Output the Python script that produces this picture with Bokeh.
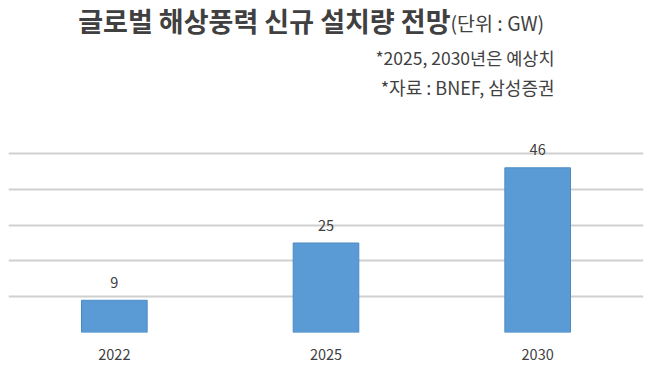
from bokeh.plotting import figure
from bokeh.models import Range1d, FixedTicker, ColumnDataSource, Label
from bokeh.core.properties import value
from bokeh.embed import file_html
from bokeh.resources import INLINE

years = ["2022", "2025", "2030"]
installs = [9, 25, 46]
grid_ticks = [0, 10, 20, 30, 40, 50]
title_main = "글로벌 해상풍력 신규 설치량 전망"
title_unit = "(단위 : GW)"
note1 = "*2025, 2030년은 예상치"
note2 = "*자료 : BNEF, 삼성증권"

W, H = 658, 367
LEFT, RIGHT, TOP, BOTTOM = 8, 15, 0, 35
FONT = "Noto Sans CJK KR"

xs = list(range(len(years)))
x0, x1 = -0.5, len(years) - 0.5
y0, y1 = 0, 92.74

p = figure(width=W, height=H, output_backend="svg", toolbar_location=None,
           x_range=Range1d(x0, x1), y_range=Range1d(y0, y1),
           y_axis_location=None, min_border_left=LEFT, min_border_right=RIGHT,
           min_border_top=TOP, min_border_bottom=BOTTOM)
p.outline_line_color = None
p.background_fill_color = "white"
p.border_fill_color = "white"

fw = W - LEFT - RIGHT
fh = H - TOP - BOTTOM
def px2x(px):
    return x0 + (px - LEFT) / fw * (x1 - x0)
def py2y(py):
    return y0 + (TOP + fh - py) / fh * (y1 - y0)

p.xgrid.visible = False
p.ygrid.ticker = FixedTicker(ticks=grid_ticks)
p.ygrid.grid_line_color = "#d0d0d0"
p.ygrid.grid_line_width = 1.8

src = ColumnDataSource(dict(x=xs, top=installs, lab=[str(v) for v in installs]))
p.vbar(x="x", top="top", width=0.31, bottom=0, source=src,
       fill_color="#5b9bd5", line_color="#4a8ac4", line_width=1)
p.text(x="x", y="top", text="lab", source=src, text_align="center",
       text_baseline="middle", y_offset=-18, text_font=value(FONT),
       text_font_size="14.5px", text_color="#404040")

ax = p.xaxis[0]
ax.ticker = FixedTicker(ticks=xs)
ax.major_label_overrides = {i: y for i, y in enumerate(years)}
ax.axis_line_color = None
ax.major_tick_line_color = None
ax.minor_tick_line_color = None
ax.major_label_text_font = FONT
ax.major_label_text_font_size = "14.5px"
ax.major_label_text_color = "#404040"
ax.major_label_standoff = 10

p.add_layout(Label(x=px2x(450), y=py2y(19.5), text=title_main, text_align="right",
                   text_baseline="middle", text_font=FONT, text_font_size="27px",
                   text_font_style="bold", text_color="#404040"))
p.add_layout(Label(x=px2x(450), y=py2y(21.5), text=title_unit, text_align="left",
                   text_baseline="middle", text_font=FONT, text_font_size="19.5px",
                   text_color="#404040"))
p.add_layout(Label(x=px2x(554), y=py2y(56.5), text=note1, text_align="right",
                   text_baseline="middle", text_font=FONT, text_font_size="17.5px",
                   text_color="#404040"))
p.add_layout(Label(x=px2x(554), y=py2y(86.5), text=note2, text_align="right",
                   text_baseline="middle", text_font=FONT, text_font_size="18px",
                   text_color="#404040"))

open("out.html", "w").write(file_html(p, INLINE))
